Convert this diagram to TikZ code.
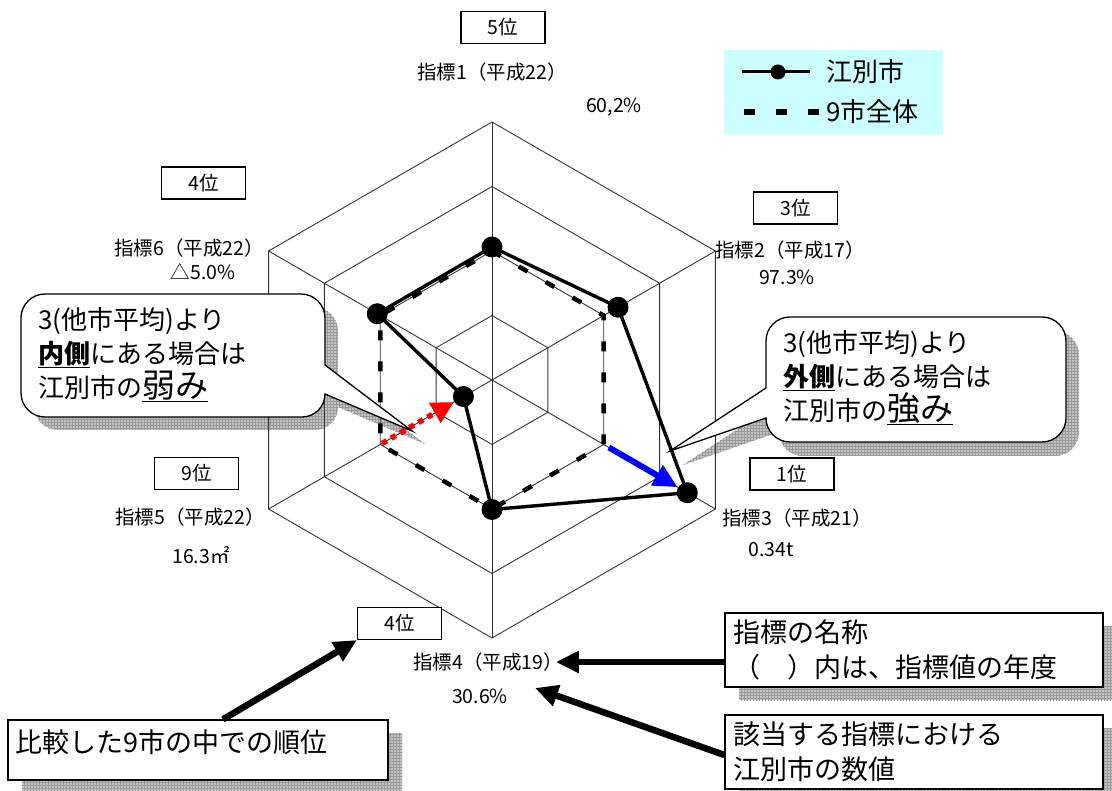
\documentclass[tikz,border=0pt]{standalone}
\usepackage{fontspec}
\setmainfont{Noto Sans CJK JP}
\usetikzlibrary{arrows.meta,patterns}
\definecolor{legendcyan}{RGB}{204,255,255}
\definecolor{shadowgray}{RGB}{196,196,196}
\newcommand{\weakcallout}{(45,-294) -- (301,-294) arc[start angle=90,end angle=0,radius=24] -- (325,-365) -- (412,-431) -- (325,-394) arc[start angle=0,end angle=-90,radius=23] -- (45,-417) arc[start angle=-90,end angle=-180,radius=24] -- (21,-318) arc[start angle=180,end angle=90,radius=24] -- cycle}
\newcommand{\strongcallout}{(790,-317) -- (1042,-317) arc[start angle=90,end angle=0,radius=24] -- (1066,-418) arc[start angle=0,end angle=-90,radius=24] -- (790,-442) arc[start angle=-90,end angle=-180,radius=24] -- (670,-451) -- (766,-388) -- (766,-341) arc[start angle=180,end angle=90,radius=24] -- cycle}
\tikzset{
  gridline/.style={black!80, line width=0.9pt},
  avgline/.style={black, line width=4.5pt, dash pattern=on 10pt off 21pt},
  ebetsuline/.style={black, line width=3.4pt},
  weakarrow/.style={red, line width=5.5pt, dash pattern=on 5.5pt off 5pt, -{Triangle[length=22pt,width=22pt]}},
  strongarrow/.style={blue, line width=6pt, -{Triangle[length=24pt,width=22pt]}},
  rankbox/.style={draw, line width=1.2pt, fill=white, minimum width=84pt, minimum height=32pt, inner sep=0pt, font=\fontsize{19.5}{22}\selectfont},
  axislabel/.style={inner sep=0pt, font=\fontsize{19.5}{22}\selectfont},
  calloutframe/.style={draw=black, fill=white, line width=1.3pt},
  calloutnote/.style={inner sep=0pt, align=left, anchor=north west, font=\fontsize{26}{34}\selectfont},
  shadowfill/.style={fill=shadowgray},
  shadowgrid/.style={pattern=grid, pattern color=black!40},
  boxshadow/.style={preaction={shadowfill, transform canvas={shift={(14pt,-13pt)}}}, preaction={shadowgrid, transform canvas={shift={(14pt,-13pt)}}}},
  notebox/.style={draw, line width=1.3pt, fill=white, align=left, inner xsep=8pt, inner ysep=0pt, font=\fontsize{27}{35}\selectfont},
  legendtext/.style={inner sep=0pt, anchor=west, font=\fontsize{26}{30}\selectfont},
  bigarrow/.style={black, line width=6.5pt, -{Triangle[length=23pt,width=21pt]}}
}
\begin{document}
\begin{tikzpicture}[x=1pt,y=1pt]
\useasboundingbox (0,0) rectangle (1112,-791);
% callout shadows
\fill [shadowfill, shift={(13,-13)}] \weakcallout;
\fill [shadowgrid, shift={(13,-13)}] \weakcallout;
\fill [shadowfill, shift={(13,-14)}] \strongcallout;
\fill [shadowgrid, shift={(13,-14)}] \strongcallout;
% radar chart
\begin{scope}[shift={(492,-380)}]
\foreach \r in {64.5,129,193.5,258}
  \draw [gridline] (90:\r) -- (30:\r) -- (-30:\r) -- (-90:\r) -- (-150:\r) -- (150:\r) -- cycle;
\foreach \a in {90,30,-30,-90,-150,150}
  \draw [gridline] (0,0) -- (\a:258);
\coordinate (a1) at (90:129);
\coordinate (a2) at (30:129);
\coordinate (a3) at (-30:129);
\coordinate (a4) at (-90:129);
\coordinate (a5) at (-150:129);
\coordinate (a6) at (150:129);
\draw [avgline] (a1) -- (a2) -- (a3) -- (a4) -- (a5) -- (a6) -- cycle;
\coordinate (e1) at (90:133);
\coordinate (e2) at (30:145.5);
\coordinate (e3) at (-30:225.5);
\coordinate (e4) at (-90:129.5);
\coordinate (e5) at (-150:33);
\coordinate (e6) at (150:132.5);
\draw [ebetsuline] (e1) -- (e2) -- (e3) -- (e4) -- (e5) -- (e6) -- cycle;
\foreach \i in {1,...,6}
  \fill [black] (e\i) circle (10.5);
\draw [weakarrow, shorten <=2pt, shorten >=11pt] (a5) -- (e5);
\draw [strongarrow, shorten <=6pt, shorten >=11pt] (a3) -- (e3);
\end{scope}
% callouts
\draw [calloutframe] \weakcallout;
\node [calloutnote] (weak) at (38,-307) {3(他市平均)より\\\underline{\textbf{内側}}にある場合は\\江別市の\underline{\fontsize{33}{34}\selectfont 弱み}};
\draw [calloutframe] \strongcallout;
\node [calloutnote] (strong) at (783,-330) {3(他市平均)より\\\underline{\textbf{外側}}にある場合は\\江別市の\underline{\fontsize{33}{34}\selectfont 強み}};
% ranks, names and values
\node [rankbox] (k1) at (503,-27.5) {5位};
\node [rankbox] (k2) at (795.5,-208) {3位};
\node [rankbox] (k3) at (792,-474) {1位};
\node [rankbox] (k4) at (399.5,-623.5) {4位};
\node [rankbox] (k5) at (196.5,-473.5) {9位};
\node [rankbox] (k6) at (203.5,-183) {4位};
\node [axislabel] (l1) at (492,-72) {指標1（平成22）};
\node [axislabel] (l2) at (790,-250) {指標2（平成17）};
\node [axislabel] (l3) at (797,-518) {指標3（平成21）};
\node [axislabel] (l4) at (488,-662) {指標4（平成19）};
\node [axislabel] (l5) at (190,-517) {指標5（平成22）};
\node [axislabel] (l6) at (189,-248) {指標6（平成22）};
\node [axislabel] (v1) at (614,-107) {60,2\%};
\node [axislabel] (v2) at (787,-277) {97.3\%};
\node [axislabel] (v3) at (771,-550) {0.34t};
\node [axislabel] (v4) at (480,-696) {30.6\%};
\node [axislabel] (v5) at (201,-555) {16.3㎡};
\node [axislabel] (v6) at (203,-272) {△5.0\%};
% legend
\node [fill=legendcyan, minimum width=219pt, minimum height=85pt, inner sep=0pt] (legend) at (833.5,-92.5) {};
\draw [ebetsuline, line width=3pt] (742,-72) -- (810,-72);
\fill [black] (778,-72) circle (7.5);
\node [legendtext] (legEb) at (826,-72) {江別市};
\draw [black, line width=5.5pt, dash pattern=on 11pt off 21pt] (744,-112) -- (820,-112);
\node [legendtext] (legAvg) at (826,-112) {9市全体};
% explanation boxes
\node [notebox, boxshadow, minimum height=60pt, text width=364pt, text depth=17pt] (rankNote) at (198,-750) {比較した9市の中での順位};
\node [notebox, boxshadow, minimum height=74pt, text width=362pt] (nameNote) at (914,-650) {指標の名称\\（　）内は、指標値の年度};
\node [notebox, boxshadow, minimum height=74pt, text width=362pt] (valueNote) at (914,-752) {該当する指標における\\江別市の数値};
\coordinate (v4tip) at (535,-688);
\draw [bigarrow] ([xshift=25pt]rankNote.north) -- (k4.south west);
\draw [bigarrow] (nameNote.west |- l4.east) -- ([xshift=-7pt]l4.east);
\draw [bigarrow] ([yshift=-3pt]valueNote.west) -- (v4tip);
\end{tikzpicture}
\end{document}
